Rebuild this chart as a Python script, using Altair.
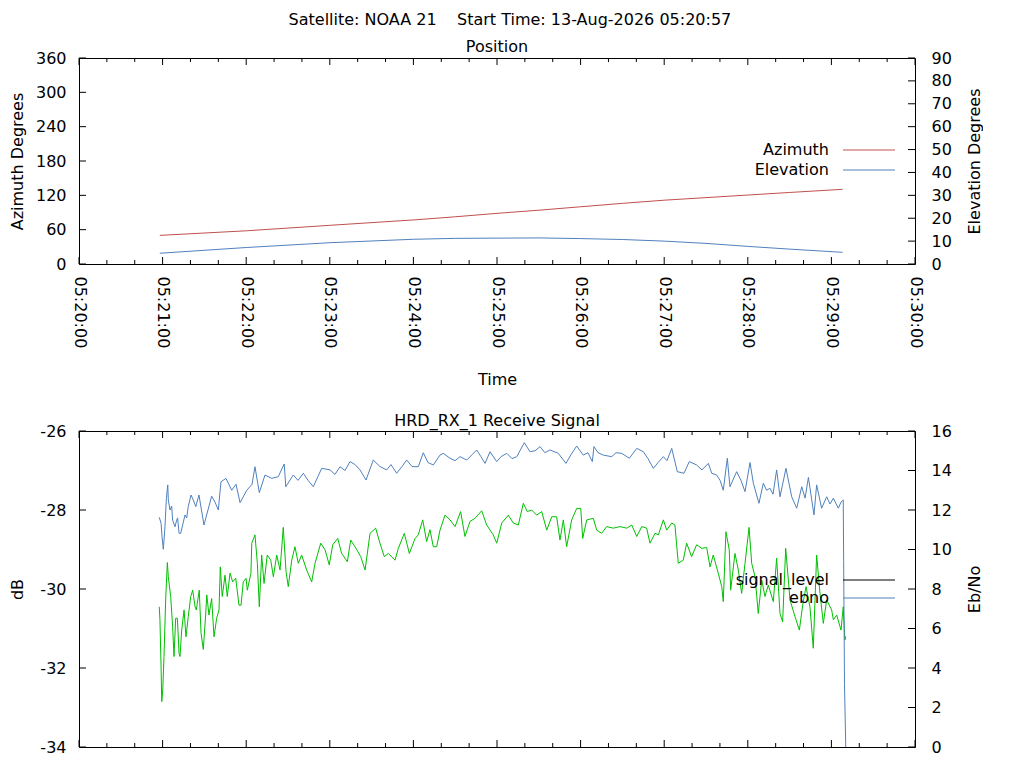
import altair as alt
import pandas as pd

# ---------------- data ----------------
MAIN_TITLE = "Satellite: NOAA 21\u00a0\u00a0\u00a0\u00a0Start Time: 13-Aug-2026 05:20:57"
POS_TITLE = "Position"
SIG_TITLE = "HRD_RX_1 Receive Signal"

# seconds after 05:20:00
pos_t = [58, 120, 180, 240, 270, 300, 330, 360, 390, 420, 450, 480, 510, 548]
azimuth = [50.0, 58.0, 67.6, 77.0, 82.5, 88.5, 94.0, 100.0, 106.0, 111.5, 116.0, 120.5, 125.0, 130.5]
elevation = [4.7, 7.2, 9.3, 10.8, 11.2, 11.3, 11.4, 11.1, 10.7, 10.0, 9.0, 7.7, 6.5, 5.1]

sig_t = [57.6, 58.1, 58.9, 59.4, 60.1, 61.0, 62.2, 63.4, 64.1, 65.8,
         67.2, 68.2, 69.4, 70.6, 71.8, 72.5, 73.7, 75.4, 76.8, 78.4,
         80.2, 81.6, 83.3, 84.2, 86.3, 87.6, 89.2, 90.9, 91.7, 93.3,
         95.2, 96.9, 98.8, 100.5, 101.4, 102.8, 104.8, 106.4, 108.4, 110.3,
         112.5, 114.8, 116.3, 117.9, 119.9, 120.8, 123.4, 124.0, 126.3, 128.0,
         129.4, 131.1, 132.8, 135.1, 137.6, 139.5, 141.9, 144.3, 146.6, 148.6,
         150.2, 152.7, 155.0, 157.4, 159.8, 163.4, 167.0, 169.4, 173.5, 176.6,
         179.6, 182.1, 185.7, 188.5, 192.6, 195.0, 198.8, 202.2, 205.3, 208.9,
         212.9, 216.0, 219.1, 222.0, 226.8, 229.2, 233.5, 237.1, 241.2, 243.5,
         246.7, 249.5, 251.9, 254.3, 256.7, 259.1, 262.7, 266.3, 269.9, 273.9,
         277.0, 280.6, 284.2, 289.0, 292.6, 297.3, 299.8, 303.4, 308.1, 311.7,
         315.3, 318.9, 321.7, 324.9, 328.5, 332.1, 335.7, 339.3, 342.8, 345.2,
         347.6, 350.0, 353.6, 357.2, 360.1, 361.5, 364.4, 369.1, 371.6, 375.1,
         378.7, 383.5, 388.3, 393.1, 396.7, 400.3, 403.9, 407.4, 409.8, 413.4,
         415.8, 419.4, 421.8, 425.4, 427.7, 430.1, 433.7, 436.1, 439.7, 443.3,
         446.9, 450.5, 452.9, 455.2, 458.8, 461.3, 462.4, 464.3, 466.7, 467.7,
         470.8, 473.2, 475.6, 478.0, 480.9, 482.8, 485.2, 487.5, 490.0, 492.3,
         494.7, 498.3, 500.7, 503.1, 505.0, 507.2, 510.3, 513.9, 517.0, 519.6,
         521.8, 524.6, 527.0, 529.4, 531.8, 534.2, 536.6, 540.2, 541.4, 543.8,
         546.9, 548.5, 549.7, 550.3]
signal_level = [-30.45, -30.78, -31.97, -32.85, -32.56, -31.71, -30.28, -29.33, -29.69, -30.19,
                -30.95, -31.71, -30.74, -30.74, -31.63, -31.71, -31.04, -30.53, -31.21, -30.70,
                -30.19, -30.03, -30.45, -30.53, -30.03, -31.12, -31.53, -30.66, -30.15, -30.66,
                -30.24, -31.21, -30.74, -30.53, -29.44, -30.19, -29.65, -30.19, -29.60, -29.82,
                -29.73, -30.41, -30.41, -29.82, -29.73, -30.03, -29.60, -28.84, -28.63, -29.35,
                -30.45, -29.14, -29.86, -29.14, -29.27, -29.69, -29.14, -29.52, -28.44, -29.56,
                -29.94, -29.27, -28.93, -29.35, -29.14, -29.52, -29.82, -29.35, -28.84, -29.01,
                -29.39, -28.88, -28.72, -29.10, -29.31, -28.76, -28.97, -29.18, -29.52, -28.59,
                -28.46, -28.84, -29.18, -29.10, -29.27, -28.97, -28.59, -29.10, -28.72, -28.63,
                -28.25, -28.80, -28.50, -28.93, -28.93, -28.51, -28.13, -28.25, -28.42, -28.04,
                -28.67, -28.29, -28.21, -28.02, -28.38, -28.63, -28.84, -28.33, -28.13, -28.33,
                -28.38, -27.83, -28.04, -28.00, -28.13, -28.04, -28.51, -28.17, -28.17, -28.76,
                -28.25, -28.93, -28.25, -27.96, -27.96, -28.72, -28.25, -28.21, -28.51, -28.59,
                -28.42, -28.46, -28.42, -28.46, -28.38, -28.67, -28.42, -28.46, -28.84, -28.59,
                -28.63, -28.25, -28.51, -28.33, -28.38, -29.35, -29.27, -28.84, -29.18, -28.88,
                -28.97, -28.95, -29.44, -29.14, -29.60, -29.94, -30.32, -28.55, -29.01, -30.03,
                -29.10, -29.52, -30.11, -29.35, -28.44, -29.35, -29.69, -30.62, -29.77, -30.19,
                -29.90, -30.32, -29.22, -30.62, -30.83, -28.97, -30.28, -30.70, -31.04, -30.36,
                -29.94, -30.45, -31.50, -29.14, -30.11, -30.87, -30.28, -30.53, -30.78, -30.66,
                -31.04, -30.45, -31.29, -31.20]

ebno_t = [57.6, 58.9, 59.6, 60.5, 61.7, 62.7, 63.7, 64.1, 65.3, 66.5,
          67.2, 68.9, 70.1, 70.8, 71.8, 73.0, 74.4, 76.1, 77.3, 78.4,
          80.4, 82.0, 83.8, 86.1,
          89.7, 95.2, 97.6, 100.0, 101.9, 105.5, 109.6, 112.7, 115.6, 120.4,
          124.2, 126.3, 129.4, 133.5, 138.3, 143.0, 147.3, 148.4, 153.8, 157.2,
          161.0, 164.4, 168.2, 171.5, 174.2, 180.2, 183.7, 187.3, 190.9, 194.5,
          198.1, 201.7, 206.0, 211.2, 216.0, 220.8, 223.9, 228.0, 231.8, 235.2,
          239.0, 243.5, 247.1, 250.5, 254.3, 259.1, 261.4, 266.3, 269.9, 273.5,
          278.3, 282.1, 285.4, 288.5, 291.4, 295.0, 299.8, 302.9, 307.0, 310.8,
          314.2, 319.6, 323.7, 327.3, 330.9, 334.4, 338.0, 344.0, 349.5, 353.1,
          357.2, 361.9, 365.3, 368.4, 369.6, 372.5, 376.3, 382.3, 385.4, 389.5,
          395.0, 400.3, 405.0, 408.4, 412.2, 415.6, 419.4, 422.0, 425.4, 429.4,
          434.2, 438.0, 443.3, 447.1, 451.7, 454.1, 457.7, 460.1, 462.4, 465.3,
          467.2, 472.0, 475.1, 478.0, 481.6, 484.0, 488.0, 491.1, 493.5, 495.9,
          498.1, 500.7, 503.1, 507.4, 511.5, 515.1, 518.7, 521.1, 523.5, 527.5,
          529.4, 533.0, 536.6, 539.0, 541.4, 545.0, 546.9, 548.5, 548.8, 549.4,
          550.3]
ebno = [11.63, 11.33, 10.65, 10.01, 11.15, 12.59, 13.27, 12.51, 12.00, 12.20,
        11.49, 11.15, 11.49, 11.60, 10.82, 10.82, 11.24, 11.75, 11.60, 12.17,
        12.76, 12.51, 12.17, 12.76,
        11.24, 12.70, 12.40, 12.00, 13.43, 13.60, 13.00, 13.30, 12.37, 13.00,
        13.30, 14.19, 12.88, 13.77, 13.60, 13.69, 14.33, 13.18, 13.77, 13.50,
        13.86, 13.50, 13.18, 13.70, 14.11, 14.03, 13.80, 14.19, 14.00, 14.45,
        14.30, 14.03, 13.52, 14.53, 14.20, 14.03, 14.30, 13.86, 14.20, 14.53,
        14.20, 14.19, 14.90, 14.40, 14.28, 14.78, 14.87, 14.62, 14.50, 14.70,
        14.53, 14.80, 15.04, 14.70, 14.36, 14.95, 14.45, 14.70, 14.87, 14.60,
        14.70, 15.41, 14.95, 15.00, 15.21, 14.90, 15.04, 14.87, 14.36, 14.80,
        15.24, 14.78, 14.90, 14.45, 15.21, 14.90, 14.78, 14.70, 14.90, 14.87,
        14.62, 15.12, 14.95, 14.60, 14.11, 14.40, 14.70, 14.50, 15.12, 13.94,
        13.86, 14.45, 14.28, 14.03, 14.36, 13.86, 13.77, 13.50, 13.00, 14.62,
        13.18, 13.94, 13.50, 12.93, 14.40, 13.35, 12.34, 13.35, 13.00, 13.10,
        12.80, 14.03, 12.67, 14.11, 12.67, 12.09, 13.18, 12.60, 13.65, 11.75,
        13.27, 12.09, 12.67, 12.30, 12.60, 12.09, 12.40, 12.51, 9.38, 3.20,
        0.00]

x_major = list(range(0, 601, 60))
x_minor = [s for s in range(0, 601, 20) if s % 60]
az_ticks = [0, 60, 120, 180, 240, 300, 360]
el_ticks = [0, 10, 20, 30, 40, 50, 60, 70, 80, 90]
db_ticks = [-34, -32, -30, -28, -26]
eb_ticks = [0, 2, 4, 6, 8, 10, 12, 14, 16]

pos_names = ["Azimuth", "Elevation"]
sig_names = ["signal_level", "ebno"]

# ---------------- style ----------------
FONT = "DejaVu Sans"
FS = 16
RED, BLUE, GREEN, BLACK = "#c0504d", "#4f81bd", "#00c000", "#000000"
W, H1, H2 = 836, 206, 316
MAJ, MIN = 7, 4

xscale = alt.Scale(domain=[0, 600], nice=False, zero=False)
LABEL_EXPR = "timeFormat(datetime(2026,7,13,5,20,datum.value),'%H:%M:%S')"

pos_df = pd.DataFrame({"t": pos_t, "az": azimuth, "el": elevation})
sig_df = pd.DataFrame({"t": sig_t, "v": signal_level})
eb_df = pd.DataFrame({"t": ebno_t, "v": ebno})
xmaj_df = pd.DataFrame({"t": x_major})
xmin_df = pd.DataFrame({"t": x_minor})


def yaxis(values, title, orient, label_pad, title_pad):
    kw = dict(values=values, title=title, orient=orient, ticks=False, tickSize=0,
              domain=False, grid=False, labelPadding=label_pad, titlePadding=title_pad,
              labelExpr="'' + datum.value",
              labelFont=FONT, labelFontSize=FS, titleFont=FONT, titleFontSize=FS,
              titleFontWeight="normal", labelColor=BLACK, titleColor=BLACK,
              labelFlush=False, labelOverlap=False)
    if orient == "right":
        kw["titleAngle"] = 270
    return alt.Axis(**kw)


xaxis_top = alt.Axis(values=x_major, labelExpr=LABEL_EXPR, labelAngle=90, labelPadding=12,
                     ticks=False, tickSize=0, domain=False, grid=False, title="Time",
                     titlePadding=24, labelFont=FONT, labelFontSize=FS, titleFont=FONT,
                     titleFontSize=FS, titleFontWeight="normal", labelColor=BLACK,
                     titleColor=BLACK, labelFlush=False, labelOverlap=False)


def X(axis):
    if axis is None:
        return alt.X("t:Q", scale=xscale, axis=None)
    return alt.X("t:Q", scale=xscale, axis=axis)


def xticks(height, axis):
    layers = []
    for df, ln in ((xmaj_df, MAJ), (xmin_df, MIN)):
        base = alt.Chart(df).mark_rule(color=BLACK, strokeWidth=1)
        layers.append(base.encode(x=X(axis), y=alt.value(height), y2=alt.value(height - ln)))
        layers.append(base.encode(x=X(axis), y=alt.value(0), y2=alt.value(ln)))
    return layers


def yticks(values, dom, side, axis):
    df = pd.DataFrame({"v": values})
    x0, x1 = (0, MAJ) if side == "left" else (W - MAJ, W)
    return alt.Chart(df).mark_rule(color=BLACK, strokeWidth=1).encode(
        y=alt.Y("v:Q", scale=alt.Scale(domain=dom, nice=False, zero=False), axis=axis),
        x=alt.value(x0), x2=alt.value(x1))


def legend(names, colors, ys):
    out = []
    for n, c, yy in zip(names, colors, ys):
        out.append(alt.Chart().mark_text(align="right", baseline="middle", font=FONT,
                                          fontSize=FS, color=BLACK).encode(
            x=alt.value(750), y=alt.value(yy), text=alt.value(n)))
        out.append(alt.Chart().mark_rule(color=c, strokeWidth=1).encode(
            x=alt.value(764), x2=alt.value(816), y=alt.value(yy)))
    return out


# ---------------- top panel ----------------
az_axis = yaxis(az_ticks, "Azimuth Degrees", "left", 13, 10)
el_axis = yaxis(el_ticks, "Elevation Degrees", "right", 16, 31)

az_line = alt.Chart(pos_df).mark_line(color=RED, strokeWidth=1).encode(
    x=X(xaxis_top),
    y=alt.Y("az:Q", scale=alt.Scale(domain=[0, 360], nice=False, zero=False), axis=az_axis))
el_line = alt.Chart(pos_df).mark_line(color=BLUE, strokeWidth=1).encode(
    x=X(xaxis_top),
    y=alt.Y("el:Q", scale=alt.Scale(domain=[0, 90], nice=False, zero=False), axis=el_axis))

left_top = alt.layer(az_line, yticks(az_ticks, [0, 360], "left", az_axis),
                     *xticks(H1, xaxis_top))
right_top = alt.layer(el_line, yticks(el_ticks, [0, 90], "right", el_axis))
top = alt.layer(left_top, right_top, *legend(pos_names, [RED, BLUE], [92, 112])
                ).resolve_scale(y="independent").properties(
    width=W, height=H1,
    title=alt.TitleParams(POS_TITLE, font=FONT, fontSize=FS, fontWeight="normal",
                          color=BLACK, offset=-5))

# ---------------- bottom panel ----------------
db_axis = yaxis(db_ticks, "dB", "left", 13, 14)
eb_axis = yaxis(eb_ticks, "Eb/No", "right", 16, 31)

sig_line = alt.Chart(sig_df).mark_line(color=GREEN, strokeWidth=1).encode(
    x=X(None),
    y=alt.Y("v:Q", scale=alt.Scale(domain=[-34, -26], nice=False, zero=False), axis=db_axis))
eb_line = alt.Chart(eb_df).mark_line(color=BLUE, strokeWidth=1).encode(
    x=X(None),
    y=alt.Y("v:Q", scale=alt.Scale(domain=[0, 16], nice=False, zero=False), axis=eb_axis))

left_bot = alt.layer(sig_line, yticks(db_ticks, [-34, -26], "left", db_axis), *xticks(H2, None))
right_bot = alt.layer(eb_line, yticks(eb_ticks, [0, 16], "right", eb_axis))
bottom = alt.layer(left_bot, right_bot, *legend(sig_names, [BLACK, BLUE], [149, 167])
                   ).resolve_scale(y="independent").properties(
    width=W, height=H2,
    title=alt.TitleParams(SIG_TITLE, font=FONT, fontSize=FS, fontWeight="normal",
                          color=BLACK, offset=-6))

chart = alt.vconcat(top, bottom, spacing=23).properties(
    title=alt.TitleParams(MAIN_TITLE, font=FONT, fontSize=FS, fontWeight="normal",
                          color=BLACK, anchor="middle", offset=11, dx=14),
    padding={"left": 0, "top": 3, "right": 0, "bottom": 0},
    background="white",
).configure_view(stroke=BLACK, strokeWidth=1)

chart.save("out.html", embed_options={"renderer": "svg", "actions": False})
